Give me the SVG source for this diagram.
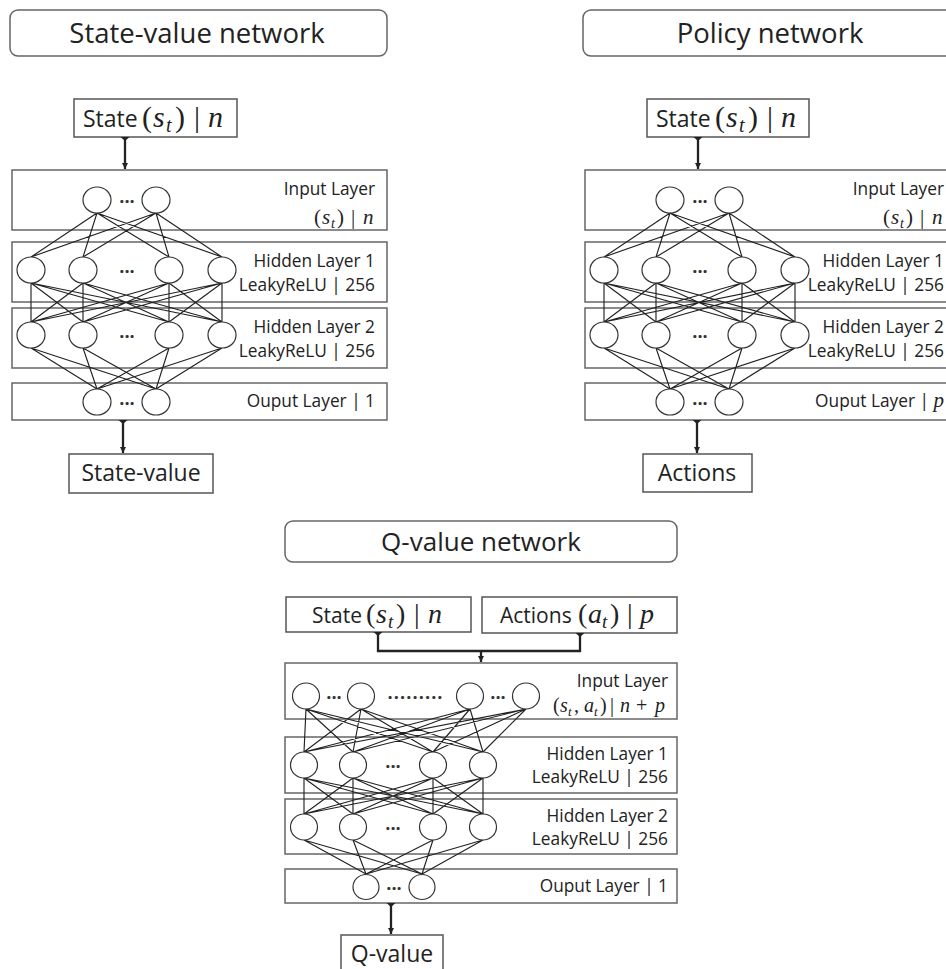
<svg xmlns="http://www.w3.org/2000/svg" width="946" height="969" viewBox="0 0 946 969">
<defs>
<style>
.bg{fill:#fff}
.tb{fill:#fff;stroke:#666;stroke-width:1.5}
.lb{fill:#fff;stroke:#666;stroke-width:1.5}
.io{fill:#fff;stroke:#555;stroke-width:1.5}
.n{fill:#fff;stroke:#333;stroke-width:1.2}
.w{fill:none;stroke:#222;stroke-width:1.15}
.c{fill:none;stroke:#222;stroke-width:2.3}
.t{font-family:"Open Sans","Liberation Sans",sans-serif;fill:#222}
.title{font-size:27.5px;text-anchor:middle}
.bx{font-size:23px}
.lbl{font-size:17.3px;text-anchor:end}
.m{font-family:"Liberation Serif",serif;font-style:italic;fill:#222}
.r{font-family:"Liberation Serif",serif;font-style:normal;fill:#222}
.d{font-family:"Open Sans","Liberation Sans",sans-serif;font-weight:bold;font-size:18px;fill:#333;text-anchor:middle}
</style>
<marker id="ah" markerWidth="8" markerHeight="8" refX="6" refY="4" orient="auto" markerUnits="userSpaceOnUse"><path d="M0,1 L6,4 L0,7 z" fill="#222"/></marker>
<marker id="tee" markerWidth="6" markerHeight="10" refX="0" refY="5" orient="auto" markerUnits="userSpaceOnUse"><path d="M0,0.5 L4,5 L0,9.5 z" fill="#222"/></marker>
</defs>
<rect class="bg" width="946" height="969"/>

<!-- ===== State-value network ===== -->
<g id="sv-title"><rect class="tb" x="10" y="10" width="377" height="46" rx="8"/><text class="t title" x="197" y="43">State-value network</text></g>
<g id="sv-state"><rect class="io" x="74" y="99" width="163" height="38"/><text class="t bx" y="127"><tspan x="83">State</tspan><tspan class="r" font-size="30" x="142">(</tspan><tspan class="m" font-size="30" x="153">s</tspan><tspan class="m" font-size="20" x="166" y="132">t</tspan><tspan class="r" font-size="30" x="175" y="127">)</tspan><tspan class="r" font-size="30" x="194">|</tspan><tspan class="m" font-size="30" x="208">n</tspan></text></g>
<g id="sv-input-layer"><rect class="lb" x="12" y="170" width="375" height="60"/><text class="t lbl" x="375" y="195">Input Layer</text><text y="224"><tspan class="r" font-size="21" x="314">(</tspan><tspan class="m" font-size="21" x="322">s</tspan><tspan class="m" font-size="14" x="331" y="228">t</tspan><tspan class="r" font-size="21" x="337" y="224">)</tspan><tspan class="r" font-size="21" x="351">|</tspan><tspan class="m" font-size="21" x="363">n</tspan></text></g>
<g id="sv-hidden1"><rect class="lb" x="12" y="242" width="375" height="60"/><text class="t lbl" x="375" y="267">Hidden Layer 1</text><text class="t lbl" x="375" y="291">LeakyReLU | 256</text></g>
<g id="sv-hidden2"><rect class="lb" x="12" y="308" width="375" height="60"/><text class="t lbl" x="375" y="333">Hidden Layer 2</text><text class="t lbl" x="375" y="357">LeakyReLU | 256</text></g>
<g id="sv-output-layer"><rect class="lb" x="12" y="383" width="375" height="37"/><text class="t lbl" x="375" y="407">Ouput Layer | 1</text></g>
<g id="sv-result"><rect class="io" x="69" y="454" width="144" height="39"/><text class="t bx" x="141" y="481" text-anchor="middle">State-value</text></g>

<!-- ===== Policy network ===== -->
<g id="p-title"><rect class="tb" x="583" y="10" width="377" height="46" rx="8"/><text class="t title" x="770" y="43">Policy network</text></g>
<g id="p-state"><rect class="io" x="647" y="99" width="162" height="38"/><text class="t bx" y="127"><tspan x="656">State</tspan><tspan class="r" font-size="30" x="715">(</tspan><tspan class="m" font-size="30" x="726">s</tspan><tspan class="m" font-size="20" x="739" y="132">t</tspan><tspan class="r" font-size="30" x="748" y="127">)</tspan><tspan class="r" font-size="30" x="767">|</tspan><tspan class="m" font-size="30" x="781">n</tspan></text></g>
<g id="p-input-layer"><rect class="lb" x="585" y="170" width="375" height="60"/><text class="t lbl" x="944" y="195">Input Layer</text><text y="224"><tspan class="r" font-size="21" x="883">(</tspan><tspan class="m" font-size="21" x="891">s</tspan><tspan class="m" font-size="14" x="900" y="228">t</tspan><tspan class="r" font-size="21" x="906" y="224">)</tspan><tspan class="r" font-size="21" x="920">|</tspan><tspan class="m" font-size="21" x="932">n</tspan></text></g>
<g id="p-hidden1"><rect class="lb" x="585" y="242" width="375" height="60"/><text class="t lbl" x="944" y="267">Hidden Layer 1</text><text class="t lbl" x="944" y="291">LeakyReLU | 256</text></g>
<g id="p-hidden2"><rect class="lb" x="585" y="308" width="375" height="60"/><text class="t lbl" x="944" y="333">Hidden Layer 2</text><text class="t lbl" x="944" y="357">LeakyReLU | 256</text></g>
<g id="p-output-layer"><rect class="lb" x="585" y="383" width="375" height="37"/><text class="t lbl" x="944" y="407">Ouput Layer | <tspan class="m" font-size="21">p</tspan></text></g>
<g id="p-result"><rect class="io" x="643" y="454" width="109" height="38"/><text class="t bx" x="697" y="481" text-anchor="middle">Actions</text></g>

<!-- ===== Q-value network ===== -->
<g id="q-title"><rect class="tb" x="285" y="521" width="392" height="41" rx="8"/><text class="t title" x="481" y="551" style="font-size:26px">Q-value network</text></g>
<g id="q-state"><rect class="io" x="286" y="597" width="185" height="35"/><text class="t" y="623" style="font-size:21px"><tspan x="312">State</tspan><tspan class="r" font-size="28" x="366">(</tspan><tspan class="m" font-size="28" x="376">s</tspan><tspan class="m" font-size="19" x="388" y="628">t</tspan><tspan class="r" font-size="28" x="396" y="623">)</tspan><tspan class="r" font-size="28" x="414">|</tspan><tspan class="m" font-size="28" x="428">n</tspan></text></g>
<g id="q-actions"><rect class="io" x="482" y="597" width="195" height="36"/><text class="t" y="623" style="font-size:21px"><tspan x="500">Actions</tspan><tspan class="r" font-size="28" x="578">(</tspan><tspan class="m" font-size="28" x="588">a</tspan><tspan class="m" font-size="19" x="602" y="628">t</tspan><tspan class="r" font-size="28" x="610" y="623">)</tspan><tspan class="r" font-size="28" x="627">|</tspan><tspan class="m" font-size="28" x="640">p</tspan></text></g>
<g id="q-input-layer"><rect class="lb" x="285" y="663" width="392" height="56"/><text class="t lbl" x="668" y="687">Input Layer</text><text y="712"><tspan class="r" font-size="20" x="553">(</tspan><tspan class="m" font-size="20" x="560">s</tspan><tspan class="m" font-size="13" x="568" y="716">t</tspan><tspan class="r" font-size="20" x="574" y="712">,</tspan><tspan class="m" font-size="20" x="584">a</tspan><tspan class="m" font-size="13" x="594" y="716">t</tspan><tspan class="r" font-size="20" x="600" y="712">)</tspan><tspan class="r" font-size="20" x="610">|</tspan><tspan class="m" font-size="20" x="620">n</tspan><tspan class="r" font-size="20" x="636">+</tspan><tspan class="m" font-size="20" x="655">p</tspan></text></g>
<g id="q-hidden1"><rect class="lb" x="285" y="737" width="392" height="56"/><text class="t lbl" x="668" y="760">Hidden Layer 1</text><text class="t lbl" x="668" y="783">LeakyReLU | 256</text></g>
<g id="q-hidden2"><rect class="lb" x="285" y="799" width="392" height="55"/><text class="t lbl" x="668" y="822">Hidden Layer 2</text><text class="t lbl" x="668" y="845">LeakyReLU | 256</text></g>
<g id="q-output-layer"><rect class="lb" x="285" y="869" width="392" height="34"/><text class="t lbl" x="668" y="892">Ouput Layer | 1</text></g>
<g id="q-result"><rect class="io" x="341" y="935" width="102" height="40"/><text class="t bx" x="392" y="962" text-anchor="middle">Q-value</text></g>

<!-- ===== Connectors ===== -->
<g id="connectors">
<g id="sv-weights">
<path class="w" d="M97,213L31,257M97,213L83,257M97,213L169,257M97,213L222,257M156,213L31,257M156,213L83,257M156,213L169,257M156,213L222,257
M31,283L31,322M31,283L83,322M31,283L169,322M31,283L222,322M83,283L31,322M83,283L83,322M83,283L169,322M83,283L222,322
M169,283L31,322M169,283L83,322M169,283L169,322M169,283L222,322M222,283L31,322M222,283L83,322M222,283L169,322M222,283L222,322
M31,348L97,389M31,348L156,389M83,348L97,389M83,348L156,389M169,348L97,389M169,348L156,389M222,348L97,389M222,348L156,389"/>
</g>
<g id="p-weights" transform="translate(573,0)">
<path class="w" d="M97,213L31,257M97,213L83,257M97,213L169,257M97,213L222,257M156,213L31,257M156,213L83,257M156,213L169,257M156,213L222,257
M31,283L31,322M31,283L83,322M31,283L169,322M31,283L222,322M83,283L31,322M83,283L83,322M83,283L169,322M83,283L222,322
M169,283L31,322M169,283L83,322M169,283L169,322M169,283L222,322M222,283L31,322M222,283L83,322M222,283L169,322M222,283L222,322
M31,348L97,389M31,348L156,389M83,348L97,389M83,348L156,389M169,348L97,389M169,348L156,389M222,348L97,389M222,348L156,389"/>
</g>
<g id="q-weights">
<path class="w" d="M306,709L304,752M306,709L353,752M306,709L433,752M306,709L483,752M361,709L304,752M361,709L353,752M361,709L433,752M361,709L483,752
M470,709L304,752M470,709L353,752M470,709L433,752M470,709L483,752M526,709L304,752M526,709L353,752M526,709L433,752M526,709L483,752
M304,778L304,814M304,778L353,814M304,778L433,814M304,778L483,814M353,778L304,814M353,778L353,814M353,778L433,814M353,778L483,814
M433,778L304,814M433,778L353,814M433,778L433,814M433,778L483,814M483,778L304,814M483,778L353,814M483,778L433,814M483,778L483,814
M304,840L366,874M304,840L422,874M353,840L366,874M353,840L422,874M433,840L366,874M433,840L422,874M483,840L366,874M483,840L422,874"/>
</g>
<path class="c" d="M125,137V169" marker-start="url(#tee)" marker-end="url(#ah)"/>
<path class="c" d="M123,420V453" marker-start="url(#tee)" marker-end="url(#ah)"/>
<path class="c" d="M698,137V169" marker-start="url(#tee)" marker-end="url(#ah)"/>
<path class="c" d="M697,420V453" marker-start="url(#tee)" marker-end="url(#ah)"/>
<path class="c" d="M378,632V651H481" marker-start="url(#tee)"/>
<path class="c" d="M580,633V651H481" marker-start="url(#tee)"/>
<path class="c" d="M481,651V662" marker-end="url(#ah)"/>
<path class="c" d="M391,903V934" marker-start="url(#tee)" marker-end="url(#ah)"/>
</g>

<!-- ===== Neurons ===== -->
<g id="sv-neurons">
<g id="sv-in1"><ellipse class="n" cx="97" cy="200" rx="14" ry="13"/></g>
<g id="sv-in2"><ellipse class="n" cx="156" cy="200" rx="14" ry="13"/></g>
<text class="d" x="127" y="203">...</text>
<g id="sv-h1a"><ellipse class="n" cx="31" cy="270" rx="14" ry="13"/></g>
<g id="sv-h1b"><ellipse class="n" cx="83" cy="270" rx="14" ry="13"/></g>
<g id="sv-h1c"><ellipse class="n" cx="169" cy="270" rx="14" ry="13"/></g>
<g id="sv-h1d"><ellipse class="n" cx="222" cy="270" rx="14" ry="13"/></g>
<text class="d" x="127" y="273">...</text>
<g id="sv-h2a"><ellipse class="n" cx="31" cy="335" rx="14" ry="13"/></g>
<g id="sv-h2b"><ellipse class="n" cx="83" cy="335" rx="14" ry="13"/></g>
<g id="sv-h2c"><ellipse class="n" cx="169" cy="335" rx="14" ry="13"/></g>
<g id="sv-h2d"><ellipse class="n" cx="222" cy="335" rx="14" ry="13"/></g>
<text class="d" x="127" y="338">...</text>
<g id="sv-o1"><ellipse class="n" cx="97" cy="402" rx="14" ry="13"/></g>
<g id="sv-o2"><ellipse class="n" cx="156" cy="402" rx="14" ry="13"/></g>
<text class="d" x="127" y="405">...</text>
</g>
<g id="p-neurons" transform="translate(573,0)">
<g id="p-in1"><ellipse class="n" cx="97" cy="200" rx="14" ry="13"/></g>
<g id="p-in2"><ellipse class="n" cx="156" cy="200" rx="14" ry="13"/></g>
<text class="d" x="127" y="203">...</text>
<g id="p-h1a"><ellipse class="n" cx="31" cy="270" rx="14" ry="13"/></g>
<g id="p-h1b"><ellipse class="n" cx="83" cy="270" rx="14" ry="13"/></g>
<g id="p-h1c"><ellipse class="n" cx="169" cy="270" rx="14" ry="13"/></g>
<g id="p-h1d"><ellipse class="n" cx="222" cy="270" rx="14" ry="13"/></g>
<text class="d" x="127" y="273">...</text>
<g id="p-h2a"><ellipse class="n" cx="31" cy="335" rx="14" ry="13"/></g>
<g id="p-h2b"><ellipse class="n" cx="83" cy="335" rx="14" ry="13"/></g>
<g id="p-h2c"><ellipse class="n" cx="169" cy="335" rx="14" ry="13"/></g>
<g id="p-h2d"><ellipse class="n" cx="222" cy="335" rx="14" ry="13"/></g>
<text class="d" x="127" y="338">...</text>
<g id="p-o1"><ellipse class="n" cx="97" cy="402" rx="14" ry="13"/></g>
<g id="p-o2"><ellipse class="n" cx="156" cy="402" rx="14" ry="13"/></g>
<text class="d" x="127" y="405">...</text>
</g>
<g id="q-neurons">
<g id="q-in1"><ellipse class="n" cx="306" cy="696" rx="13.5" ry="13"/></g>
<g id="q-in2"><ellipse class="n" cx="361" cy="696" rx="13.5" ry="13"/></g>
<g id="q-in3"><ellipse class="n" cx="470" cy="696" rx="13.5" ry="13"/></g>
<g id="q-in4"><ellipse class="n" cx="526" cy="696" rx="13.5" ry="13"/></g>
<text class="d" x="334" y="699">...</text>
<text class="d" x="415" y="699" textLength="55" lengthAdjust="spacing">.........</text>
<text class="d" x="498" y="699">...</text>
<g id="q-h1a"><ellipse class="n" cx="304" cy="765" rx="13.5" ry="13"/></g>
<g id="q-h1b"><ellipse class="n" cx="353" cy="765" rx="13.5" ry="13"/></g>
<g id="q-h1c"><ellipse class="n" cx="433" cy="765" rx="13.5" ry="13"/></g>
<g id="q-h1d"><ellipse class="n" cx="483" cy="765" rx="13.5" ry="13"/></g>
<text class="d" x="393" y="768">...</text>
<g id="q-h2a"><ellipse class="n" cx="304" cy="827" rx="13.5" ry="13"/></g>
<g id="q-h2b"><ellipse class="n" cx="353" cy="827" rx="13.5" ry="13"/></g>
<g id="q-h2c"><ellipse class="n" cx="433" cy="827" rx="13.5" ry="13"/></g>
<g id="q-h2d"><ellipse class="n" cx="483" cy="827" rx="13.5" ry="13"/></g>
<text class="d" x="393" y="830">...</text>
<g id="q-o1"><ellipse class="n" cx="366" cy="887" rx="13" ry="12.5"/></g>
<g id="q-o2"><ellipse class="n" cx="422" cy="887" rx="13" ry="12.5"/></g>
<text class="d" x="394" y="890">...</text>
</g>
</svg>
